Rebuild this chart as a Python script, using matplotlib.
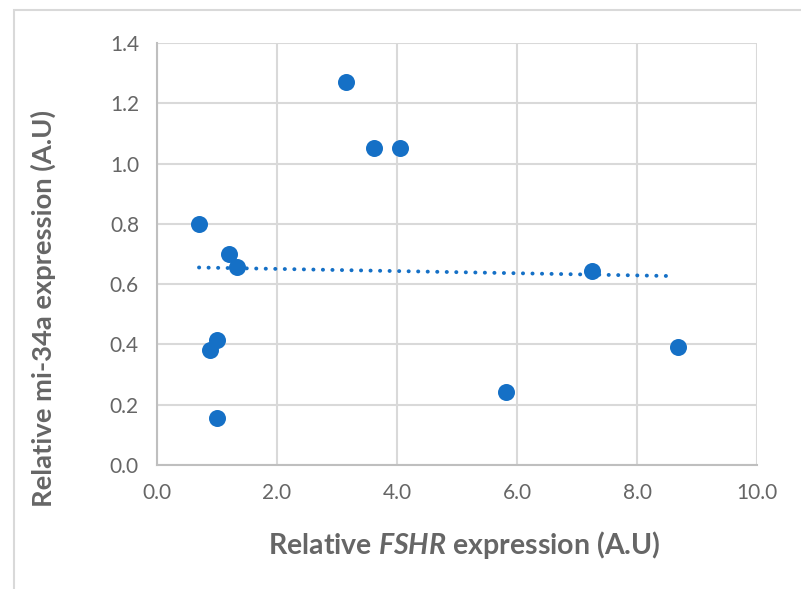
import matplotlib
matplotlib.use('Agg')
import matplotlib.pyplot as plt
from matplotlib.patches import Rectangle
import numpy as np

# --- Data ---
fshr = [0.70, 1.20, 1.33, 1.00, 0.88, 1.00, 3.15, 3.62, 4.05, 5.82, 7.25, 8.68]
mir34a = [0.80, 0.70, 0.657, 0.415, 0.38, 0.156, 1.27, 1.05, 1.05, 0.243, 0.643, 0.39]
x_ticks = [0, 2, 4, 6, 8, 10]
y_ticks = [0.0, 0.2, 0.4, 0.6, 0.8, 1.0, 1.2, 1.4]

# --- Style ---
BLUE = '#1570C6'
GRID = '#D9D9D9'
TEXT = '#666666'
FONT = 'Lato'

plt.rcParams['mathtext.fontset'] = 'custom'
plt.rcParams['mathtext.bfit'] = f'{FONT}:italic:bold'
plt.rcParams['mathtext.it'] = f'{FONT}:italic'
plt.rcParams['mathtext.rm'] = FONT

fig = plt.figure(figsize=(8.01, 5.89), dpi=100, facecolor='white')
W, H = 801, 589
ax = fig.add_axes([157 / W, 1 - 465 / H, 600 / W, 422 / H])

# chart frame (light border as in the office export)
fig.patches.append(Rectangle((14 / W, -0.01), 1.0, 1 - 10 / H + 0.01,
                             transform=fig.transFigure, fill=False,
                             edgecolor='#D9D9D9', linewidth=1.5))

ax.scatter(fshr, mir34a, s=150, color=BLUE, zorder=3, linewidths=0)

# linear trendline
slope, icpt = np.polyfit(fshr, mir34a, 1)
tx = np.array([min(fshr), 8.6])
ax.plot(tx, slope * tx + icpt, linestyle=(0, (0.05, 2.4)), color=BLUE,
        linewidth=2.8, dash_capstyle='round', zorder=2)

ax.set_xlim(0, 10)
ax.set_ylim(0, 1.4)
ax.set_xticks(x_ticks)
ax.set_yticks(y_ticks)
ax.set_xticklabels([f'{v:.1f}' for v in x_ticks])
ax.set_yticklabels([f'{v:.1f}' for v in y_ticks])
ax.grid(True, color=GRID, linewidth=1.5, zorder=0)
ax.set_axisbelow(True)
for s in ['top', 'right']:
    ax.spines[s].set_visible(False)
for s in ['left', 'bottom']:
    ax.spines[s].set_color('#BFBFBF')
    ax.spines[s].set_linewidth(1.5)
ax.tick_params(length=0, labelsize=15, labelcolor=TEXT, pad=13)
for lab in ax.get_xticklabels() + ax.get_yticklabels():
    lab.set_fontfamily(FONT)

fig.text(464 / W, 1 - 545 / H, r'Relative $\mathbfit{FSHR}$ expression (A.U)',
         ha='center', va='center', fontsize=20.5, fontweight='bold',
         color=TEXT, family=FONT)
fig.text(43 / W, 1 - 308 / H, 'Relative mi-34a expression (A.U)',
         ha='center', va='center', fontsize=19.7, fontweight='bold',
         color=TEXT, family=FONT, rotation=90)

fig.savefig('out.png', dpi=100, facecolor='white')
